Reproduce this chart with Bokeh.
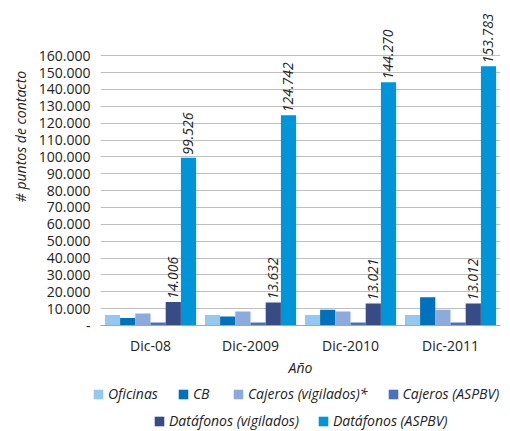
from bokeh.plotting import figure
from bokeh.models import (FactorRange, Range1d, FixedTicker, ColumnDataSource, LabelSet,
                          Legend, LegendItem, Label)
from bokeh.layouts import column, row
from bokeh.transform import dodge
from bokeh.core.properties import value
from bokeh.embed import file_html
from bokeh.resources import INLINE
import math

categories = ["Dic-08", "Dic-2009", "Dic-2010", "Dic-2011"]
series_names = ["Oficinas", "CB", "Cajeros (vigilados)*", "Cajeros (ASPBV)",
                "Datáfonos (vigilados)", "Datáfonos (ASPBV)"]
oficinas = [6300, 6300, 6300, 6300]
cb = [4500, 5300, 9300, 16700]
cajeros_vig = [7100, 8300, 8300, 9300]
cajeros_aspbv = [1800, 1800, 1800, 1800]
datafonos_vig = [14006, 13632, 13021, 13012]
datafonos_aspbv = [99526, 124742, 144270, 153783]
y_ticks = list(range(0, 160001, 10000))

colors = ["#94C8EE", "#0071BC", "#8CAADC", "#4A72BA", "#374B85", "#0094D8"]
FONT = "Open Sans"
TXT = "#222222"

def fmt(v):
    return f"{v:,}".replace(",", ".")

src = ColumnDataSource(dict(
    cat=categories,
    s0=oficinas, s1=cb, s2=cajeros_vig, s3=cajeros_aspbv, s4=datafonos_vig, s5=datafonos_aspbv,
    l4=[fmt(v) for v in datafonos_vig], l5=[fmt(v) for v in datafonos_aspbv],
))

P_H = 379
p = figure(width=472, height=P_H, x_range=FactorRange(*categories, range_padding=0),
           y_range=Range1d(0, 188000), output_backend="svg", toolbar_location=None,
           min_border_left=70, min_border_right=2, min_border_top=8, min_border_bottom=54)
p.outline_line_color = None
p.background_fill_color = "white"

bw = 0.152
offsets = [(-2.5 + i) * bw for i in range(6)]
renderers = []
for i in range(6):
    r = p.vbar(x=dodge("cat", offsets[i], range=p.x_range), top=f"s{i}", width=bw,
               source=src, fill_color=colors[i], line_color=None)
    renderers.append(r)

for i, lab in [(4, "l4"), (5, "l5")]:
    ls = LabelSet(x=dodge("cat", offsets[i], range=p.x_range), y=f"s{i}", text=lab, source=src,
                  angle=math.pi / 2, text_align="left", text_baseline="middle",
                  y_offset=3, text_font=value(FONT), text_font_style="italic",
                  text_font_size="14px", text_color=TXT)
    p.add_layout(ls)

# axes
p.yaxis.ticker = FixedTicker(ticks=y_ticks)
p.yaxis.major_label_overrides = {t: ("-" if t == 0 else fmt(t)) for t in y_ticks}
p.yaxis.axis_line_color = None
p.yaxis.major_tick_line_color = None
p.yaxis.minor_tick_line_color = None
p.yaxis.major_label_text_font = FONT
p.yaxis.major_label_text_font_size = "14px"
p.yaxis.major_label_text_color = TXT
p.yaxis.major_label_standoff = 4

p.xaxis.axis_line_color = "#A6A6A6"
p.xaxis.major_tick_line_color = None
p.xaxis.minor_tick_line_color = None
p.xaxis.major_label_text_font = FONT
p.xaxis.major_label_text_font_size = "14px"
p.xaxis.major_label_text_color = TXT
p.xaxis.major_label_standoff = 4
p.xaxis.axis_label = "Año"
p.xaxis.axis_label_text_font = FONT
p.xaxis.axis_label_text_font_style = "italic"
p.xaxis.axis_label_text_font_size = "14px"
p.xaxis.axis_label_text_color = TXT
p.xaxis.axis_label_standoff = 0

p.xgrid.grid_line_color = None
p.ygrid.grid_line_color = "#BFBFBF"
p.ygrid.grid_line_width = 1

# y-axis title panel
yl = figure(width=30, height=P_H, x_range=Range1d(0, 1), y_range=Range1d(0, 1),
            output_backend="svg", toolbar_location=None, min_border=0)
yl.axis.visible = False
yl.grid.visible = False
yl.outline_line_color = None
yl.add_layout(Label(x=20, y=P_H - 190, x_units="screen", y_units="screen",
                    text="# puntos de contacto",
                    angle=math.pi / 2, text_align="center", text_baseline="middle",
                    text_font=FONT, text_font_style="italic", text_font_size="14px",
                    text_color=TXT))

# legend panel
lf = figure(width=502, height=431 - P_H, x_range=Range1d(0, 1), y_range=Range1d(0, 1),
            output_backend="svg", toolbar_location=None, min_border=0,
            min_border_left=92, min_border_right=0)
lf.axis.visible = False
lf.grid.visible = False
lf.outline_line_color = None
leg_r = []
for i in range(6):
    leg_r.append(lf.vbar(x=[-10], top=[-10], width=0.1, fill_color=colors[i], line_color=None))

def make_legend(idx, loc, spacing):
    return Legend(items=[LegendItem(label=series_names[i], renderers=[leg_r[i]]) for i in idx],
                  orientation="horizontal", location=loc,
                  label_text_font=FONT, label_text_font_style="italic", label_text_font_size="14px",
                  label_text_color=TXT, glyph_width=12, glyph_height=12,
                  label_standoff=4, spacing=spacing, padding=0, margin=0,
                  border_line_color=None, background_fill_alpha=0)

lf.add_layout(make_legend([0, 1, 2, 3], (0, 28), 19))
lf.add_layout(make_legend([4, 5], (61, 1), 18))

layout = column(row(yl, p, spacing=0), lf, spacing=0)
open("out.html", "w").write(file_html(layout, INLINE))
